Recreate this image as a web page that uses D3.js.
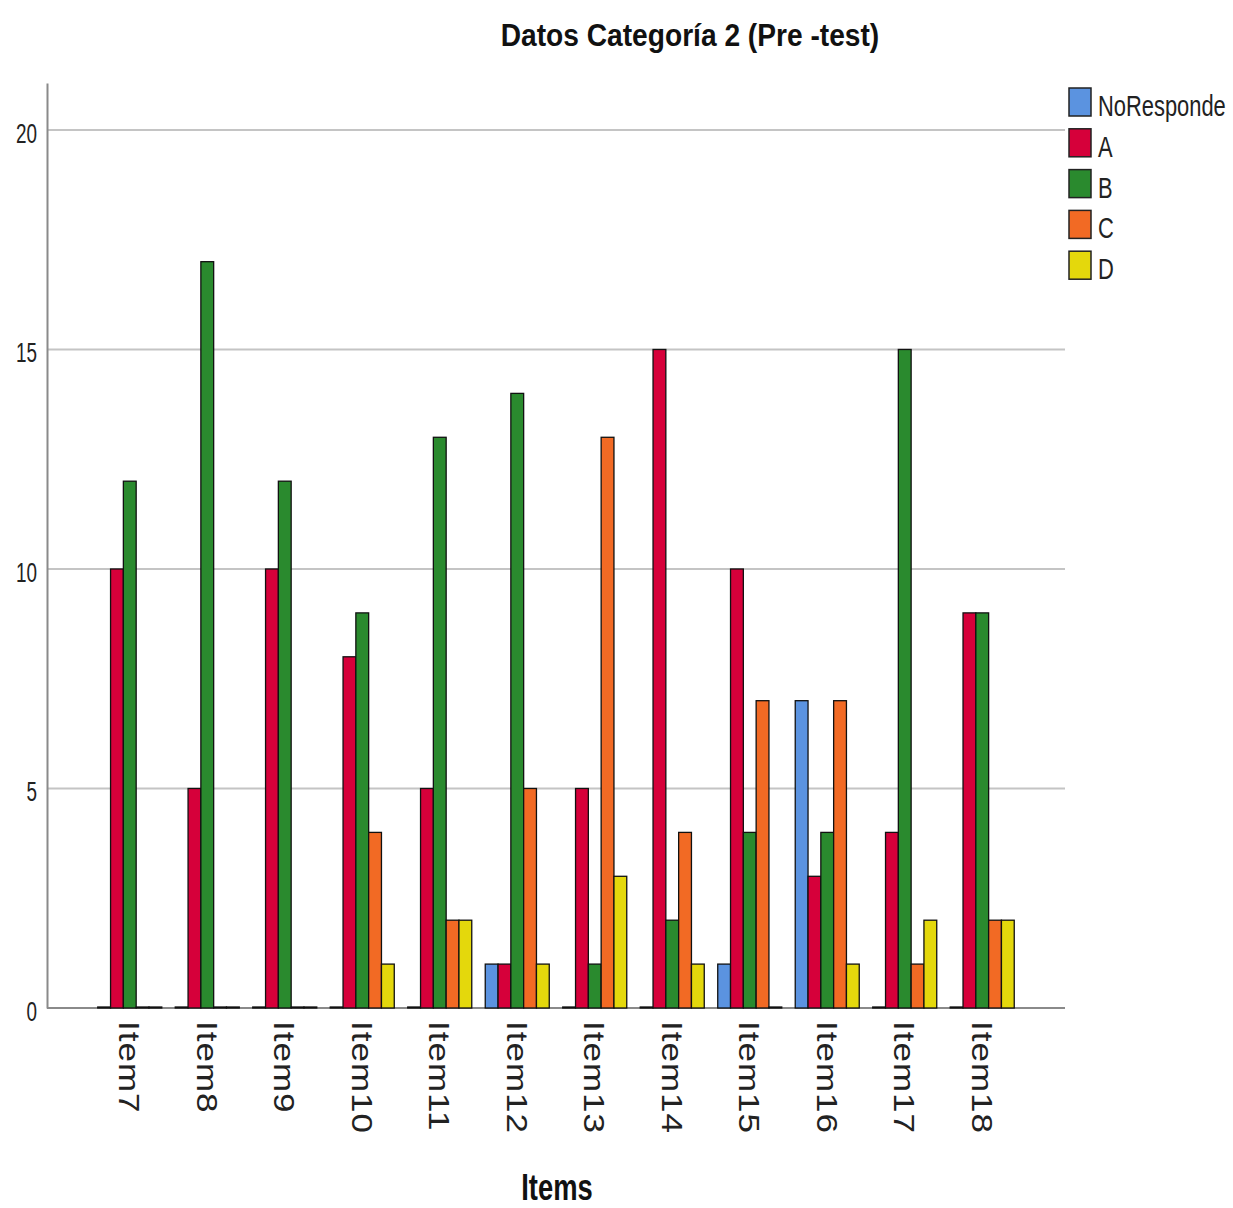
<!DOCTYPE html>
<html><head><meta charset="utf-8">
<script src="https://cdn.jsdelivr.net/npm/d3@7"></script>
<style>body{margin:0;background:#fff}svg{display:block}text{font-family:"Liberation Sans",Arial,sans-serif}</style>
</head><body>
<svg id="c" width="1233" height="1208"></svg>
<script>
const items = ["Item7","Item8","Item9","Item10","Item11","Item12","Item13","Item14","Item15","Item16","Item17","Item18"];
const seriesNames = ["NoResponde","A","B","C","D"];
const colors = ["#5b93e0","#d6003a","#2a8a2e","#f26a24","#e4d80c"];
const NoResponde = [0,0,0,0,0,1,0,0,1,7,0,0];
const A = [10,5,10,8,5,1,5,15,10,3,4,9];
const B = [12,17,12,9,13,14,1,2,4,4,15,9];
const C = [0,0,0,4,2,5,13,4,7,7,1,2];
const D = [0,0,0,1,2,1,3,1,0,1,2,2];
const yTicks = [0,5,10,15,20];
const title = "Datos Categoría 2 (Pre -test)";
const xTitle = "Items";

(function(){
const values = [NoResponde, A, B, C, D];
const svg = d3.select("#c");
const pL = 47, pR = 1065, pT = 83, pB = 1008;

const x = d3.scaleBand().domain(items).range([pL, pR]).paddingInner(0.174).paddingOuter(0.655);
const xs = d3.scaleBand().domain(seriesNames).range([0, x.bandwidth()]);
const y = d3.scaleLinear().domain([0, 21.07]).range([pB, pT]);

// gridlines
svg.append("g").selectAll("line").data(yTicks.filter(t => t > 0)).join("line")
  .attr("x1", pL).attr("x2", pR).attr("y1", d => y(d)).attr("y2", d => y(d))
  .attr("stroke", "#c4c4c4").attr("stroke-width", 2);

// y axis
const yAxis = svg.append("g").attr("transform", `translate(${pL},0)`)
  .call(d3.axisLeft(y).tickValues(yTicks).tickSize(0).tickPadding(10));
yAxis.select(".domain").attr("stroke", "#8a8a8a").attr("stroke-width", 2);
yAxis.selectAll(".tick text").attr("font-size", 27).attr("fill", "#222")
  .attr("dy", "0.45em")
  .each(function(){ const t = d3.select(this); const xx = +t.attr("x"); t.attr("x", null).attr("transform", `translate(${xx},0) scale(0.7,1)`); });

// baseline
svg.append("line").attr("x1", pL).attr("x2", pR).attr("y1", pB).attr("y2", pB)
  .attr("stroke", "#8a8a8a").attr("stroke-width", 2);

// bars
const groups = svg.append("g").selectAll("g").data(items).join("g")
  .attr("transform", d => `translate(${x(d)},0)`);
groups.selectAll("rect").data((d, i) => seriesNames.map((s, j) => ({s, j, v: values[j][i]}))).join("rect")
  .attr("x", d => xs(d.s)).attr("width", xs.bandwidth())
  .attr("y", d => Math.min(y(d.v), pB - 1)).attr("height", d => Math.max(pB - y(d.v), 1))
  .attr("fill", d => d.v === 0 ? "#111" : colors[d.j]).attr("stroke", "#111").attr("stroke-width", 1.3);

// x labels rotated
svg.append("g").selectAll("text").data(items).join("text")
  .attr("transform", d => `translate(${x(d) + x.bandwidth()/2},1021) rotate(90) scale(1,0.84)`)
  .attr("dy", "0.35em").attr("font-size", 35).attr("fill", "#222").attr("letter-spacing", 1)
  .text(d => d);

// title
svg.append("text").attr("transform", "translate(690,46) scale(0.88,1)")
  .attr("text-anchor", "middle").attr("font-size", 32).attr("font-weight", "bold").attr("fill", "#111").text(title);

// x title
svg.append("text").attr("transform", "translate(557,1200) scale(0.74,1)")
  .attr("text-anchor", "middle").attr("font-size", 37).attr("font-weight", "bold").attr("fill", "#111").text(xTitle);

// legend
const lg = svg.append("g").selectAll("g").data(seriesNames).join("g")
  .attr("transform", (d, i) => `translate(1069,${88 + i * 40.8})`);
lg.append("rect").attr("width", 22).attr("height", 28).attr("fill", (d, i) => colors[i])
  .attr("stroke", "#222").attr("stroke-width", 1.5);
lg.append("text").attr("transform", "translate(29,28) scale(0.73,1)")
  .attr("font-size", 30).attr("fill", "#222").text(d => d);
})();
</script>
</body></html>
